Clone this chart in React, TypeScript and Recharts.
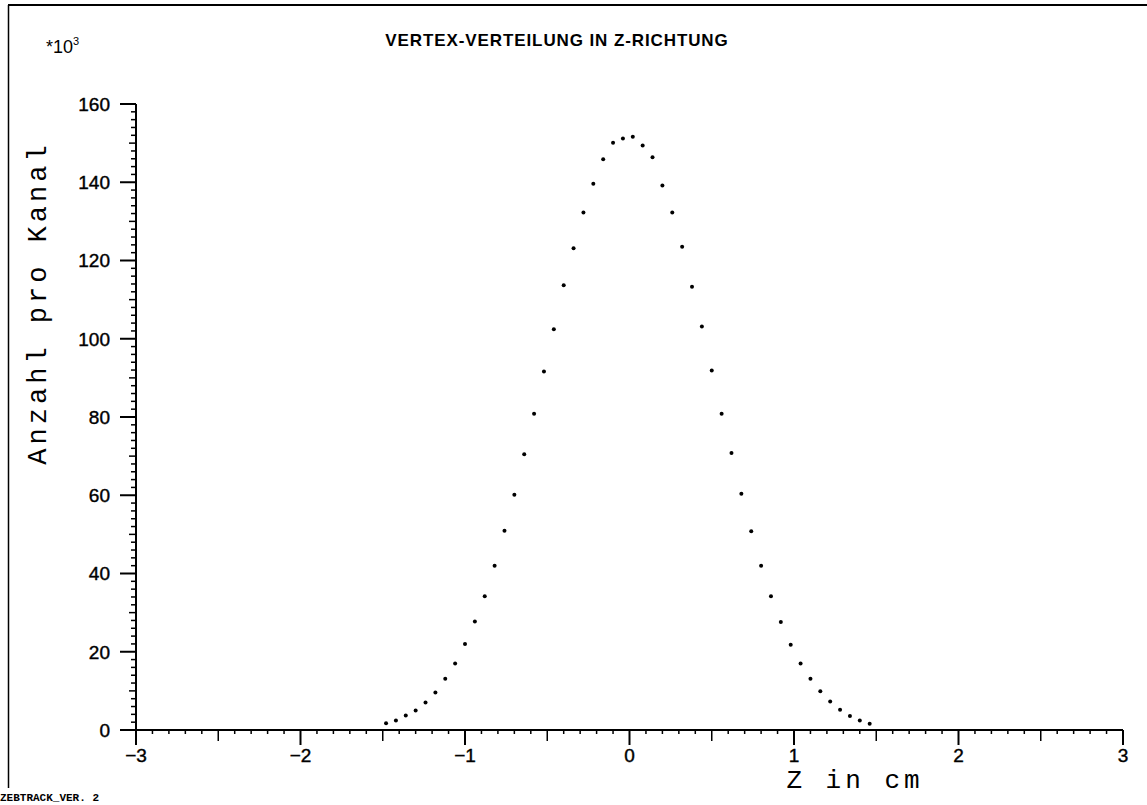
import React from 'react';
import { ScatterChart, Scatter, XAxis, YAxis } from 'recharts';

// Channel centres (Z in cm)
const zValues = [
  -1.48, -1.42, -1.36, -1.3, -1.24, -1.18, -1.12, -1.06, -1.0, -0.94,
  -0.88, -0.82, -0.76, -0.7, -0.64, -0.58, -0.52, -0.46, -0.4, -0.34,
  -0.28, -0.22, -0.16, -0.1, -0.04, 0.02, 0.08, 0.14, 0.2, 0.26,
  0.32, 0.38, 0.44, 0.5, 0.56, 0.62, 0.68, 0.74, 0.8, 0.86,
  0.92, 0.98, 1.04, 1.1, 1.16, 1.22, 1.28, 1.34, 1.4, 1.46,
];

// Anzahl pro Kanal (*10^3)
const counts = [
  1.7, 2.4, 3.7, 5.0, 7.0, 9.6, 13.1, 17.0, 22.0, 27.7,
  34.2, 42.0, 50.9, 60.1, 70.5, 80.8, 91.6, 102.4, 113.7, 123.1,
  132.3, 139.6, 145.9, 150.1, 151.2, 151.6, 149.4, 146.4, 139.2, 132.3,
  123.5, 113.3, 103.1, 91.9, 80.8, 70.8, 60.4, 50.8, 42.0, 34.2,
  27.6, 21.8, 17.0, 13.1, 9.9, 7.3, 5.2, 3.6, 2.4, 1.6,
];

const xMajorTicks = [-3, -2, -1, 0, 1, 2, 3];
const yMajorTicks = [0, 20, 40, 60, 80, 100, 120, 140, 160];

const title = 'VERTEX-VERTEILUNG IN Z-RICHTUNG';
const yTitle = 'Anzahl pro Kanal';
const xTitle = 'Z in cm';
const scaleText = '*10';
const scaleExp = '3';
const footer = 'ZEBTRACK_VER. 2';

const data = zValues.map((z, i) => ({ z, n: counts[i] }));

// minor ticks every 0.1 on x, every 2 on y
const xTicks: number[] = [];
for (let i = -30; i <= 30; i++) xTicks.push(i / 10);
const yTicks: number[] = [];
for (let i = 0; i <= 80; i++) yTicks.push(i * 2);

const tickFont = "'Liberation Sans', Arial, sans-serif";
const monoFont = "'Liberation Mono', 'Courier New', monospace";

const XTick = (props: any) => {
  const { x, y, payload } = props;
  const v = payload.value as number;
  const isMajor = Math.abs(v - Math.round(v)) < 1e-6;
  const isMed = !isMajor && Math.abs(v * 2 - Math.round(v * 2)) < 1e-6;
  const len = isMajor ? 15 : isMed ? 11 : 4;
  const r = Math.round(v);
  const label = isMajor && xMajorTicks.includes(r) ? (r < 0 ? '\u2212' + Math.abs(r) : String(r)) : null;
  return (
    <g>
      <line x1={x} x2={x} y1={y} y2={y + len} stroke="#000" strokeWidth={isMajor ? 2 : 1.5} />
      {label !== null && (
        <text x={x} y={y + 32} textAnchor="middle" fontFamily={tickFont} fontSize={19} fill="#000" stroke="#000" strokeWidth={0.4}>
          {label}
        </text>
      )}
    </g>
  );
};

const YTick = (props: any) => {
  const { x, y, payload } = props;
  const v = payload.value as number;
  const isMajor = v % 20 === 0;
  const isMed = !isMajor && v % 10 === 0;
  const len = isMajor ? 16 : isMed ? 7 : 5;
  return (
    <g>
      <line x1={x - len} x2={x} y1={y} y2={y} stroke="#000" strokeWidth={isMajor ? 2 : 1.5} />
      {isMajor && yMajorTicks.includes(v) && (
        <text x={x - 26} y={y} dy="0.36em" textAnchor="end" fontFamily={tickFont} fontSize={19} fill="#000" stroke="#000" strokeWidth={0.4}>
          {String(v)}
        </text>
      )}
    </g>
  );
};

const Dot = (props: any) => {
  const { cx, cy } = props;
  return <circle cx={cx} cy={cy} r={2} fill="#000" />;
};

export default function App() {
  return (
    <div style={{ position: 'absolute', left: 0, top: 0, width: 1147, height: 805, background: '#fff' }}>
      <ScatterChart width={1147} height={805} margin={{ top: 104, right: 24, bottom: 30, left: 0 }}>
        <XAxis
          type="number"
          dataKey="z"
          domain={[-3, 3]}
          ticks={xTicks}
          interval={0}
          tickLine={false}
          tickSize={0}
          tickMargin={0}
          tick={(p: any) => <XTick {...p} />}
          axisLine={{ stroke: '#000', strokeWidth: 2 }}
          height={45}
        />
        <YAxis
          type="number"
          dataKey="n"
          domain={[0, 160]}
          ticks={yTicks}
          interval={0}
          tickLine={false}
          tickSize={0}
          tickMargin={0}
          tick={(p: any) => <YTick {...p} />}
          axisLine={{ stroke: '#000', strokeWidth: 2 }}
          width={136}
        />
        <Scatter data={data} fill="#000" shape={(p: any) => <Dot {...p} />} isAnimationActive={false} />
      </ScatterChart>
      <svg
        width={1147}
        height={805}
        style={{ position: 'absolute', left: 0, top: 0, pointerEvents: 'none' }}
      >
        <line x1={8} y1={5} x2={1147} y2={5} stroke="#000" strokeWidth={2} />
        <line x1={8.5} y1={5} x2={8.5} y2={788} stroke="#000" strokeWidth={1.5} />
        <text x={557} y={46} textAnchor="middle" fontFamily={tickFont} fontSize={17} fontWeight="bold" letterSpacing={0.9} fill="#000">
          {title}
        </text>
        <text x={46} y={53} fontFamily={tickFont} fontSize={18} fill="#000">
          {scaleText}
          <tspan fontSize={11} dy={-8}>{scaleExp}</tspan>
        </text>
        <text
          transform="translate(46,303) rotate(-90)"
          textAnchor="middle"
          fontFamily={monoFont}
          fontSize={27}
          letterSpacing={4}
          fill="#000"
        >
          {yTitle}
        </text>
        <text x={855} y={788} textAnchor="middle" fontFamily={monoFont} fontSize={26} letterSpacing={4} fill="#000">
          {xTitle}
        </text>
        <text x={0} y={801} fontFamily={monoFont} fontSize={11} fontWeight="bold" fill="#000">
          {footer}
        </text>
      </svg>
    </div>
  );
}
